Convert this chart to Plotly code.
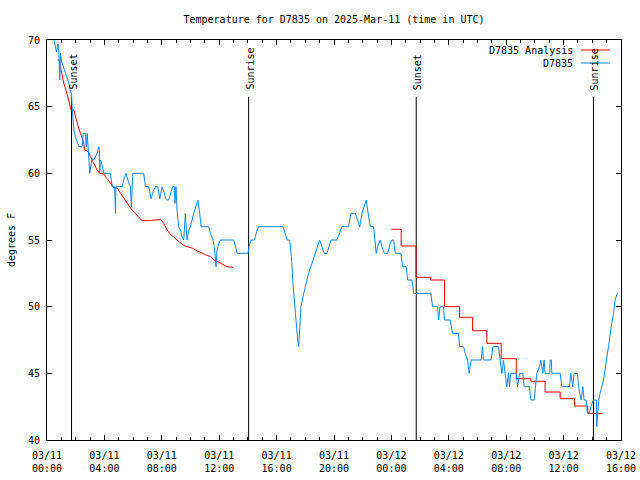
import plotly.graph_objects as go

# ---------------- data ----------------
obs_hours = [0.30, 0.48, 0.66, 0.76, 0.82, 0.89, 0.94, 1.01, 1.13, 1.29, 1.52, 1.64, 1.71, 1.75, 1.80, 1.87,
             1.98, 2.22, 2.45, 2.52, 2.68, 2.73, 2.80, 2.87, 2.98, 3.08, 3.14, 3.26, 3.49, 3.61, 3.66, 3.68,
             3.70, 3.77, 3.84, 3.96, 4.42, 4.54, 4.72, 4.77, 4.80, 4.89, 5.24, 5.35, 5.51, 5.70, 5.81, 5.88,
             5.98, 6.74, 6.86, 7.09, 7.25, 7.44, 7.56, 7.72, 7.86, 8.02, 8.18, 8.32, 8.48, 8.65, 8.76, 8.88,
             8.92, 8.99, 9.06, 9.18, 9.30, 9.41, 9.53, 9.64, 9.76, 9.88, 9.99, 10.23, 10.41, 10.51, 10.64,
             10.74, 11.27, 11.39, 11.57, 11.66, 11.78, 11.85, 11.97, 12.08, 13.01, 13.13, 13.25, 14.01,
             14.08, 14.22, 14.45, 14.64, 14.75, 16.45, 16.61, 16.73, 16.91, 17.03, 17.14, 17.26, 17.37,
             17.47, 17.54, 17.61, 17.70, 17.89, 18.07, 18.23, 18.47, 18.70, 18.86, 19.00, 19.16, 19.32,
             19.51, 19.63, 19.79, 20.21, 20.39, 20.55, 21.02, 21.18, 21.49, 21.65, 21.79, 21.95, 22.11,
             22.25, 22.41, 22.53, 22.76, 22.83, 22.94, 23.04, 23.22, 23.34, 23.50, 23.74, 23.92, 24.04,
             24.15, 24.27, 24.66, 24.78, 25.03, 25.13, 25.43, 25.50, 25.54, 26.75, 26.87, 27.22, 27.29,
             27.36, 27.40, 27.63, 27.70, 28.10, 28.17, 28.26, 28.68, 28.75, 29.03, 29.14, 29.31, 29.42,
             29.49, 29.56, 30.26, 30.35, 30.42, 30.95, 31.07, 31.46, 31.58, 31.70, 31.81, 31.93, 32.04,
             32.16, 32.23, 32.32, 32.70, 32.79, 32.93, 33.16, 33.25, 33.62, 33.72, 33.95, 34.06, 34.13,
             34.32, 34.41, 34.48, 34.55, 34.64, 34.71, 35.04, 35.06, 35.15, 35.18, 35.76, 35.87, 36.41,
             36.50, 36.57, 36.64, 36.73, 36.97, 37.04, 37.15, 37.22, 37.34, 37.43, 37.57, 37.66, 37.80,
             37.89, 38.08, 38.29, 38.31, 38.36, 38.45, 38.54, 38.66, 38.78, 38.89, 39.01, 39.13, 39.24,
             39.36, 39.48, 39.59, 39.71, 39.75]
obs_temp = [71.0, 70.0, 69.1, 69.7, 69.2, 67.0, 69.0, 68.4, 68.0, 67.5, 66.8, 66.1, 66.0, 65.0, 63.9, 63.25,
            62.75, 62.0, 62.0, 63.0, 63.0, 62.0, 63.0, 61.75, 60.0, 60.75, 61.1, 61.0, 61.5, 62.0, 61.6, 60.0,
            61.0, 60.9, 60.5, 60.0, 60.0, 59.0, 59.0, 57.0, 59.0, 59.0, 59.0, 59.5, 60.0, 59.25, 59.0, 57.5,
            60.0, 60.0, 59.0, 59.0, 58.1, 58.75, 59.0, 59.0, 58.1, 59.0, 58.5, 58.0, 58.0, 58.75, 59.0, 59.0,
            57.75, 59.0, 57.25, 56.0, 55.75, 55.25, 55.0, 57.0, 55.0, 55.75, 56.0, 57.0, 57.75, 58.0, 57.0,
            56.0, 56.0, 55.5, 55.0, 54.5, 53.0, 54.25, 54.75, 55.0, 55.0, 54.5, 54.0, 54.0,
            54.5, 55.0, 55.0, 55.75, 56.0, 56.0, 55.5, 55.0, 55.0, 53.75, 51.75, 50.0, 48.75,
            47.5, 47.0, 48.75, 50.0, 51.0, 51.75, 52.5, 53.25, 54.0, 54.6, 55.0, 54.5, 54.0,
            54.0, 54.5, 55.0, 55.0, 55.5, 56.0, 56.0, 57.0, 57.0, 56.5, 56.0, 57.0, 57.5,
            58.0, 56.75, 56.0, 56.0, 55.0, 54.0, 54.5, 55.0, 54.5, 54.0, 54.0, 54.75, 55.0,
            55.0, 54.0, 54.0, 53.0, 53.0, 52.0, 52.0, 51.5, 51.0, 51.0, 50.0, 50.0, 49.0,
            49.75, 50.0, 50.0, 49.0, 49.0, 48.5, 48.0, 48.0, 47.0, 47.0, 46.5, 46.0, 45.0,
            45.5, 46.0, 46.0, 47.0, 46.0, 46.0, 47.0, 47.0, 46.0, 45.0, 46.0, 45.0, 44.0,
            45.0, 44.0, 45.0, 45.0, 44.0, 45.0, 45.0, 44.0, 44.0, 43.0, 43.0, 44.0, 45.0,
            45.5, 46.0, 45.5, 45.0, 46.0, 45.0, 45.0, 46.0, 46.0, 45.0, 45.0, 44.0, 44.0,
            45.0, 44.5, 44.0, 45.0, 45.0, 44.0, 43.5, 43.0, 44.0, 43.0, 43.0, 42.0, 42.0,
            42.5, 43.0, 43.0, 41.0, 42.0, 43.0, 43.5, 44.0, 44.5, 45.25, 46.25, 47.0, 47.75,
            48.75, 49.5, 50.5, 50.9, 51.0]

analysis1_hours = [0.75, 0.87, 0.94, 1.17, 1.36, 1.52, 1.68, 1.87, 1.98, 2.15, 2.33, 2.50, 2.64, 2.91, 3.03,
                   3.26, 3.49, 3.68, 3.96, 4.19, 4.42, 4.65, 4.89, 5.12, 5.35, 5.58, 5.81, 6.05, 6.39, 6.63,
                   7.21, 7.90, 8.14, 8.37, 8.60, 8.83, 9.06, 9.30, 9.53, 9.76, 10.11, 10.34, 10.69, 11.04,
                   11.39, 11.62, 11.85, 12.08, 12.31, 12.55, 12.97]
analysis1_temp = [68.5, 68.5, 68.0, 66.75, 66.1, 65.4, 64.75, 64.75, 64.25, 63.6, 63.0, 62.5, 61.75, 61.6, 61.25,
                  60.75, 60.25, 60.0, 59.95, 59.6, 59.25, 58.9, 58.9, 58.5, 58.1, 57.75, 57.4, 57.1, 56.75, 56.45,
                  56.45, 56.55, 56.25, 55.75, 55.4, 55.25, 55.0, 54.8, 54.6, 54.5, 54.4, 54.25, 54.05, 53.9,
                  53.75, 53.5, 53.4, 53.25, 53.1, 53.0, 52.95]

analysis2_hours = [24.00, 24.68, 25.71, 26.71, 27.70, 28.75, 29.65, 30.65, 31.65, 32.70, 33.72, 34.71,
                   35.76, 36.76, 37.68, 38.72]
analysis2_temp = [55.8, 54.55, 52.2, 52.0, 50.0, 49.2, 48.2, 47.25, 46.1, 44.6, 44.4, 43.6,
                  43.1, 42.55, 42.0, 42.0]

event_hours = [1.71, 14.05, 25.73, 38.08]
event_labels = ["Sunset", "Sunrise", "Sunset", "Sunrise"]

x_tick_hours = [0, 4, 8, 12, 16, 20, 24, 28, 32, 36, 40]
x_tick_labels = ["03/11<br>00:00", "03/11<br>04:00", "03/11<br>08:00", "03/11<br>12:00",
                 "03/11<br>16:00", "03/11<br>20:00", "03/12<br>00:00", "03/12<br>04:00",
                 "03/12<br>08:00", "03/12<br>12:00", "03/12<br>16:00"]
y_ticks = [40, 45, 50, 55, 60, 65, 70]

RED = "#ff0000"
BLUE = "#0f86ff"
FONT = "DejaVu Sans Mono"

# ---------------- layout geometry ----------------
W, H = 640, 480
L, R, T, B = 47, 19, 40, 40
PW, PH = W - L - R, H - T - B


def px_to_paper_x(px):
    return (px - L) / PW


def px_to_paper_y(py):
    return (H - B - py) / PH


fig = go.Figure()

# event lines (sunset / sunrise)
for h in event_hours:
    fig.add_trace(go.Scatter(x=[h, h], y=[40, 65.75], mode="lines",
                             line=dict(color="black", width=1), showlegend=False, hoverinfo="skip"))

fig.add_trace(go.Scatter(x=analysis1_hours, y=analysis1_temp, mode="lines",
                         line=dict(color=RED, width=1), name="D7835 Analysis", showlegend=False))
fig.add_trace(go.Scatter(x=analysis2_hours, y=analysis2_temp, mode="lines",
                         line=dict(color=RED, width=1, shape="hv"), name="D7835 Analysis", showlegend=False))
fig.add_trace(go.Scatter(x=obs_hours, y=obs_temp, mode="lines",
                         line=dict(color=BLUE, width=1), name="D7835", showlegend=False))

annotations = []
for h, lab in zip(event_hours, event_labels):
    annotations.append(dict(x=h, y=66.1, xref="x", yref="y", text=lab, textangle=-90,
                            showarrow=False, xanchor="center", yanchor="bottom", xshift=1,
                            font=dict(family=FONT, size=10, color="black")))

# legend (gnuplot style: text left of sample)
legend_items = [("D7835 Analysis", RED, 50), ("D7835", BLUE, 63)]
shapes = []
for text, col, py in legend_items:
    annotations.append(dict(x=px_to_paper_x(575), y=px_to_paper_y(py), xref="paper", yref="paper",
                            text=text, showarrow=False, xanchor="right", yanchor="middle",
                            font=dict(family=FONT, size=10, color="black")))
    shapes.append(dict(type="line", xref="paper", yref="paper",
                       x0=px_to_paper_x(581), x1=px_to_paper_x(610),
                       y0=px_to_paper_y(py), y1=px_to_paper_y(py),
                       line=dict(color=col, width=1)))

# y axis title
annotations.append(dict(x=px_to_paper_x(11), y=0.5, xref="paper", yref="paper", text="degrees F",
                        textangle=-90, showarrow=False, xanchor="center", yanchor="middle",
                        font=dict(family=FONT, size=10, color="black")))

fig.update_layout(
    width=W, height=H,
    margin=dict(l=L, r=R, t=T, b=B, pad=0),
    paper_bgcolor="white", plot_bgcolor="white",
    font=dict(family=FONT, size=10, color="black"),
    title=dict(text="Temperature for D7835 on 2025-Mar-11 (time in UTC)",
               x=(L + PW / 2) / W, xanchor="center", y=1 - 19 / H, yanchor="middle",
               font=dict(family=FONT, size=10, color="black")),
    annotations=annotations,
    shapes=shapes,
    showlegend=False,
)

fig.update_xaxes(range=[0, 40], tickvals=x_tick_hours, ticktext=x_tick_labels,
                 ticks="inside", ticklen=5, tickcolor="black", tickwidth=1,
                 showline=True, linecolor="black", linewidth=1, mirror="allticks",
                 showgrid=False, zeroline=False, automargin=False, ticklabelstandoff=6,
                 minor=dict(dtick=1, ticks="inside", ticklen=3, tickcolor="black", showgrid=False),
                 tickfont=dict(family=FONT, size=10, color="black"))
fig.update_yaxes(range=[40, 70], tickvals=y_ticks, ticktext=[str(v) for v in y_ticks],
                 ticks="inside", ticklen=5, tickcolor="black", tickwidth=1,
                 showline=True, linecolor="black", linewidth=1, mirror="allticks",
                 showgrid=False, zeroline=False, automargin=False, ticklabelstandoff=4,
                 tickfont=dict(family=FONT, size=10, color="black"))

fig.write_html("out.html", config={"displayModeBar": False},
               post_script="document.body.style.margin='0';")
